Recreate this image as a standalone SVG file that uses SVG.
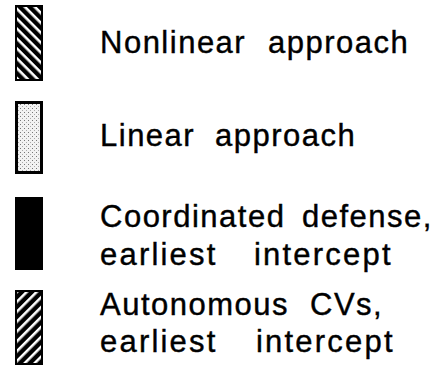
<svg xmlns="http://www.w3.org/2000/svg" width="442" height="368" viewBox="0 0 442 368">
<style>
text{font-family:"Liberation Sans",Arial,sans-serif;font-size:31px;fill:#000;stroke:#000;stroke-width:0.4;letter-spacing:1.5px}
.wide{letter-spacing:2.2px}
.box{stroke:#000;stroke-width:2}
</style>
<defs>
<pattern id="back" width="7" height="7" patternUnits="userSpaceOnUse" patternTransform="rotate(45)">
<rect width="7" height="7" fill="#000"/>
<rect width="7" height="2.6" fill="#fff"/>
</pattern>
<pattern id="fwd" width="7" height="7" patternUnits="userSpaceOnUse" patternTransform="rotate(-45)">
<rect width="7" height="7" fill="#000"/>
<rect width="7" height="2.6" fill="#fff"/>
</pattern>
<pattern id="dots" width="4" height="4" patternUnits="userSpaceOnUse">
<rect width="4" height="4" fill="#f2f2f2"/>
<rect x="0" y="0" width="1" height="1" fill="#777"/>
<rect x="2" y="2" width="1" height="1" fill="#aaa"/>
</pattern>
</defs>
<g id="nonlinear">
<rect class="box" x="16" y="6" width="26" height="74" fill="url(#back)"/>
<text x="100" y="53">Nonlinear<tspan x="268">approach</tspan></text>
</g>
<g id="linear">
<rect x="16.5" y="102.5" width="25" height="70" fill="url(#dots)" stroke="#000" stroke-width="3"/>
<text x="100" y="146">Linear<tspan x="215">approach</tspan></text>
</g>
<g id="coordinated">
<rect x="15" y="197" width="28" height="73" fill="#000"/>
<text x="100" y="227">Coordinated<tspan x="302">defense,</tspan></text>
<text class="wide" x="100" y="265">earliest<tspan x="254">intercept</tspan></text>
</g>
<g id="autonomous">
<rect class="box" x="16" y="291" width="26" height="73" fill="url(#fwd)"/>
<text x="100" y="315">Autonomous<tspan x="310">CVs,</tspan></text>
<text class="wide" x="100" y="352">earliest<tspan x="256">intercept</tspan></text>
</g>
</svg>
